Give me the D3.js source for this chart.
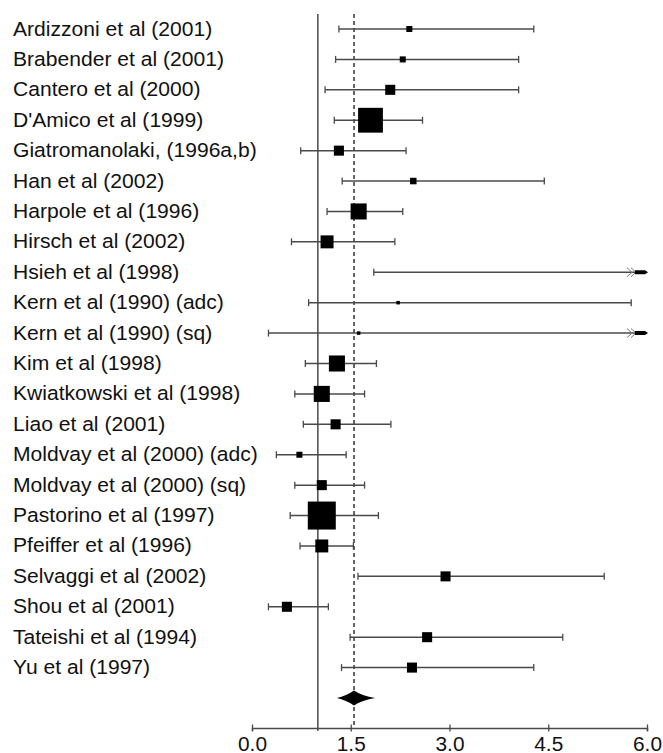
<!DOCTYPE html>
<html><head><meta charset="utf-8">
<script src="https://cdn.jsdelivr.net/npm/d3@7/dist/d3.min.js"></script>
<style>
html,body{margin:0;padding:0;background:#fff;overflow:hidden;}
text{font-family:"Liberation Sans",Arial,Helvetica,sans-serif;fill:#111;}
</style></head>
<body>
<svg id="c" width="663" height="753"></svg>
<script>
const studies = ["Ardizzoni et al (2001)","Brabender et al (2001)","Cantero et al (2000)","D'Amico et al (1999)","Giatromanolaki, (1996a,b)","Han et al (2002)","Harpole et al (1996)","Hirsch et al (2002)","Hsieh et al (1998)","Kern et al (1990) (adc)","Kern et al (1990) (sq)","Kim et al (1998)","Kwiatkowski et al (1998)","Liao et al (2001)","Moldvay et al (2000) (adc)","Moldvay et al (2000) (sq)","Pastorino et al (1997)","Pfeiffer et al (1996)","Selvaggi et al (2002)","Shou et al (2001)","Tateishi et al (1994)","Yu et al (1997)"];
const estimate = [2.39,2.29,2.10,1.80,1.32,2.45,1.62,1.14,7.5,2.22,1.62,1.29,1.06,1.27,0.72,1.06,1.06,1.06,2.94,0.53,2.66,2.43];
const lower    = [1.32,1.27,1.11,1.25,0.74,1.37,1.14,0.60,1.85,0.86,0.25,0.81,0.65,0.78,0.37,0.65,0.58,0.73,1.61,0.25,1.49,1.36];
const upper    = [4.28,4.05,4.05,2.59,2.34,4.44,2.29,2.17,14,5.76,14,1.89,1.71,2.11,1.43,1.71,1.92,1.54,5.35,1.16,4.72,4.28];
const weight   = [0.65,0.65,1.8,11,1.8,0.75,4.6,3.0,0.3,0.22,0.22,4.6,4.6,1.8,0.65,1.8,14,3.0,1.8,1.8,1.8,1.8];
const pooled = {est:1.55, lo:1.29, hi:1.87};
const nullValue = 1.0;
const xTicks = [0, 1.5, 3.0, 4.5, 6.0];
const xDomain = [0, 6];

const svg = d3.select("#c");
const x = d3.scaleLinear().domain(xDomain).range([252, 647]);
const rows = studies.concat(["__pooled"]);
const y = d3.scalePoint().domain(rows).range([29, 698]);
const size = d3.scaleSqrt().domain([0, 14]).range([0, 28]);
const axisY = 728;
const xmax = xDomain[1];
const lineCol = "#4a4a4a";
const FONT = "Liberation Sans, Arial, Helvetica, sans-serif";

// reference lines
svg.append("line").attr("x1", x(nullValue)).attr("x2", x(nullValue))
  .attr("y1", 14).attr("y2", axisY + 3)
  .attr("stroke", "#555").attr("stroke-width", 1.6);
svg.append("line").attr("x1", x(pooled.est)).attr("x2", x(pooled.est))
  .attr("y1", 14).attr("y2", axisY)
  .attr("stroke", "#555").attr("stroke-width", 1.8).attr("stroke-dasharray", "4,3");

// labels
const labs = svg.selectAll("text.lab").data(studies).enter().append("text")
  .attr("class", "lab").attr("x", 13).attr("y", d => y(d) + 6.5)
  .attr("font-family", FONT).attr("font-size", 21).text(d => d);
let maxW = 0;
labs.each(function(){ maxW = Math.max(maxW, this.getComputedTextLength()); });
if (maxW > 0) labs.attr("font-size", 21 * 245 / maxW);

const data = studies.map((s, i) => ({s, est: estimate[i], lo: lower[i], hi: upper[i], w: weight[i]}));
const g = svg.append("g");
data.forEach(d => {
  const yy = y(d.s);
  const x1 = x(d.lo), x2 = x(Math.min(d.hi, xmax));
  g.append("line").attr("x1", x1).attr("x2", x2).attr("y1", yy).attr("y2", yy)
    .attr("stroke", lineCol).attr("stroke-width", 1.5);
  g.append("line").attr("x1", x1).attr("x2", x1).attr("y1", yy - 3.5).attr("y2", yy + 3.5)
    .attr("stroke", lineCol).attr("stroke-width", 1.3);
  if (d.hi <= xmax) {
    g.append("line").attr("x1", x2).attr("x2", x2).attr("y1", yy - 3.5).attr("y2", yy + 3.5)
      .attr("stroke", lineCol).attr("stroke-width", 1.3);
  } else {
    const tip = x(xmax) + 1;
    [16, 12].forEach(off => {
      g.append("path").attr("d", `M${tip - off - 5},${yy - 4.5} L${tip - off},${yy} L${tip - off - 5},${yy + 4.5}`)
        .attr("fill", "none").attr("stroke", "#777").attr("stroke-width", 1);
    });
    g.append("path").attr("d", `M${tip - 13},${yy - 2} L${tip - 3},${yy - 2} L${tip},${yy} L${tip - 3},${yy + 2} L${tip - 13},${yy + 2} Z`)
      .attr("fill", "#000");
  }
  if (d.est <= xmax) {
    const s = size(d.w);
    g.append("rect").attr("x", x(d.est) - s / 2).attr("y", yy - s / 2)
      .attr("width", s).attr("height", s).attr("fill", "#000");
  }
});

// pooled diamond
const py = y("__pooled");
const dl = x(pooled.lo), dc = x(pooled.est), dr = x(pooled.hi);
svg.append("path")
  .attr("d", `M${dl},${py} Q${dc - 8},${py - 2} ${dc},${py - 7.5} Q${dc + 8},${py - 2} ${dr},${py} Q${dc + 8},${py + 2} ${dc},${py + 7.5} Q${dc - 8},${py + 2} ${dl},${py} Z`)
  .attr("fill", "#000");

// axis
const ax = svg.append("g").attr("transform", `translate(0,${axisY})`)
  .call(d3.axisBottom(x).tickValues(xTicks).tickFormat(d3.format(".1f")).tickSize(3).tickPadding(0));
ax.select(".domain").attr("stroke", lineCol).attr("stroke-width", 1.5);
ax.selectAll(".tick line").attr("y1", -3.5).attr("y2", 3.5).attr("stroke", lineCol).attr("stroke-width", 1.3);
const tl = ax.selectAll(".tick text").attr("font-size", 21).attr("font-family", FONT).attr("fill", "#111")
  .attr("dy", null).attr("y", 22.5);
let tw = 0;
tl.filter(d => d === 1.5).each(function(){ tw = this.getComputedTextLength(); });
if (tw > 0) tl.attr("font-size", 21 * 29 / tw);
</script>
</body></html>
